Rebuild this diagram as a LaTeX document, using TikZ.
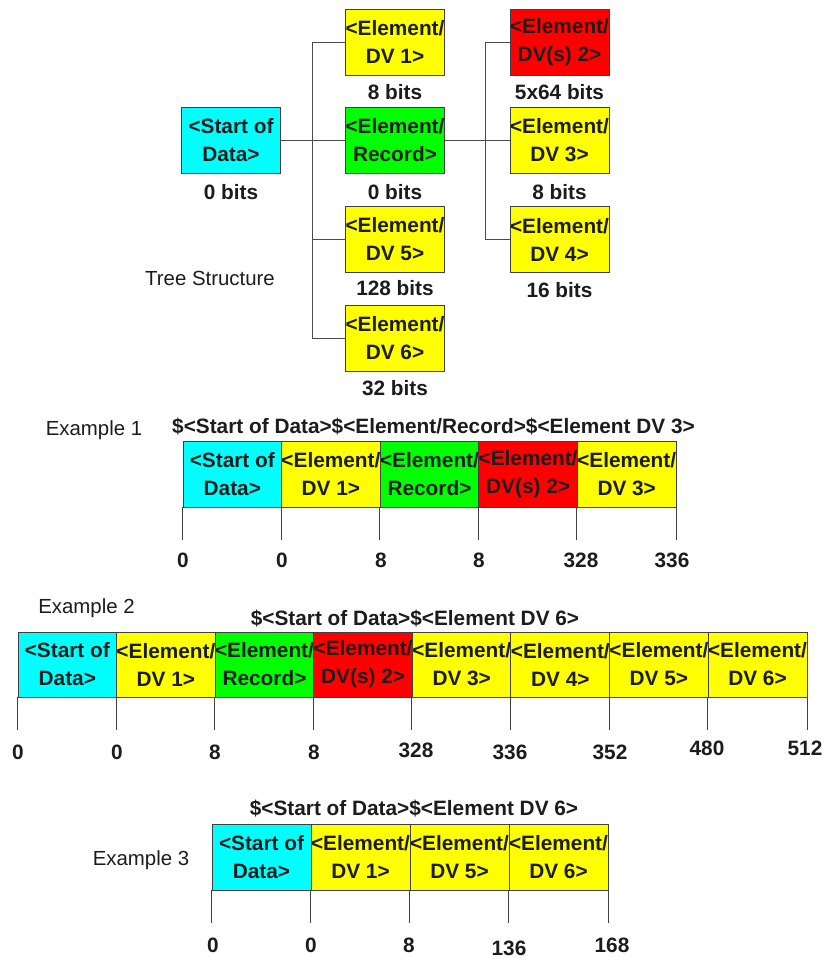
\documentclass[tikz,border=0pt]{standalone}
\usepackage{fontspec}
\setmainfont{Liberation Sans}
\definecolor{cy}{RGB}{0,255,255}
\definecolor{yl}{RGB}{255,255,0}
\definecolor{gn}{RGB}{0,255,0}
\definecolor{rd}{RGB}{255,0,0}
\definecolor{txt}{RGB}{28,28,28}
\newcommand\myboxfont{\fontsize{20.8bp}{28bp}\selectfont\bfseries}
\newcommand\myplainfont{\fontsize{20.4bp}{24bp}\selectfont}
\tikzset{
  cell/.style={draw=black!75, line width=0.8bp, minimum width=98.6bp, minimum height=66bp,
    inner sep=0pt, align=center, font=\myboxfont, text=txt},
  lbl/.style={inner sep=0pt, font=\myboxfont, text=txt},
  plain/.style={inner sep=0pt, font=\myplainfont, text=txt},
  link/.style={draw=black!70, line width=0.8bp},
  tick/.style={draw=black!75, line width=0.8bp}
}
\begin{document}
\begin{tikzpicture}[x=1bp,y=-1bp]
\useasboundingbox (0,0) rectangle (825,962);

% ---------- Tree ----------
\node[cell,fill=cy] (ts) at (231,140.5) {<Start of\\Data>};
\node[cell,fill=yl] (t1) at (395,42) {<Element/\\DV 1>};
\node[cell,fill=gn] (tr) at (395,140.5) {<Element/\\Record>};
\node[cell,fill=yl] (t5) at (395,239.5) {<Element/\\DV 5>};
\node[cell,fill=yl] (t6) at (395,338) {<Element/\\DV 6>};
\node[cell,fill=rd] (t2) at (559.5,42) {<Element/\\DV(s) 2>};
\node[cell,fill=yl] (t3) at (559.5,140.5) {<Element/\\DV 3>};
\node[cell,fill=yl] (t4) at (559.5,239.5) {<Element/\\DV 4>};

\node[lbl] (b1) at (395,92) {8 bits};
\node[lbl] (b2) at (559.5,92) {5x64 bits};
\node[lbl] (bs) at (231,192) {0 bits};
\node[lbl] (br) at (395,192) {0 bits};
\node[lbl] (b3) at (559.5,192) {8 bits};
\node[lbl] (b5) at (395,288) {128 bits};
\node[lbl] (b4) at (559.5,290) {16 bits};
\node[lbl] (b6) at (395,388) {32 bits};

\node[plain] (tree) at (210,278) {Tree Structure};

\draw[link] (ts.east) -- (tr.west);
\draw[link] (t1.west) -- ++(-33,0) |- (t6.west);
\draw[link] (t5.west) -- ++(-33,0);
\draw[link] (tr.east) -- (t3.west);
\draw[link] (t2.west) -- ++(-24,0) |- (t4.west);

% ---------- Example 1 ----------
\node[plain] (ex1) at (94,430) {Example 1};
\node[lbl] (ti1) at (433.5,427) {\$<Start of Data>\$<Element/Record>\$<Element DV 3>};
\node[cell,fill=cy] (a1) at (232.3,474) {<Start of\\Data>};
\node[cell,fill=yl] (a2) at (330.9,474) {<Element/\\DV 1>};
\node[cell,fill=gn] (a3) at (429.5,474) {<Element/\\Record>};
\node[cell,fill=rd] (a4) at (528.1,474) {<Element/\\DV(s) 2>};
\node[cell,fill=yl] (a5) at (626.7,474) {<Element/\\DV 3>};
\foreach \c in {a1,a2,a3,a4,a5} \draw[tick] (\c.south west) -- ++(0,33);
\draw[tick] (a5.south east) -- ++(0,33);
\node[lbl] (n11) at (183,560) {0};
\node[lbl] (n12) at (282,560) {0};
\node[lbl] (n13) at (381,560) {8};
\node[lbl] (n14) at (479,560) {8};
\node[lbl] (n15) at (581,560) {328};
\node[lbl] (n16) at (672,560) {336};

% ---------- Example 2 ----------
\node[plain] (ex2) at (86.5,608) {Example 2};
\node[lbl] (ti2) at (415,619) {\$<Start of Data>\$<Element DV 6>};
\node[cell,fill=cy,minimum height=65bp] (c1) at (67.3,664.5) {<Start of\\Data>};
\node[cell,fill=yl,minimum height=65bp] (c2) at (165.9,664.5) {<Element/\\DV 1>};
\node[cell,fill=gn,minimum height=65bp] (c3) at (264.5,664.5) {<Element/\\Record>};
\node[cell,fill=rd,minimum height=65bp] (c4) at (363.1,664.5) {<Element/\\DV(s) 2>};
\node[cell,fill=yl,minimum height=65bp] (c5) at (461.7,664.5) {<Element/\\DV 3>};
\node[cell,fill=yl,minimum height=65bp] (c6) at (560.3,664.5) {<Element/\\DV 4>};
\node[cell,fill=yl,minimum height=65bp] (c7) at (658.9,664.5) {<Element/\\DV 5>};
\node[cell,fill=yl,minimum height=65bp] (c8) at (757.5,664.5) {<Element/\\DV 6>};
\foreach \c in {c1,c2,c3,c4,c5,c6,c7,c8} \draw[tick] (\c.south west) -- ++(0,33);
\draw[tick] (c8.south east) -- ++(0,33);
\node[lbl] (n21) at (18,752) {0};
\node[lbl] (n22) at (117,752) {0};
\node[lbl] (n23) at (215,752) {8};
\node[lbl] (n24) at (314,752) {8};
\node[lbl] (n25) at (416,750) {328};
\node[lbl] (n26) at (510,752) {336};
\node[lbl] (n27) at (610,752) {352};
\node[lbl] (n28) at (707,748) {480};
\node[lbl] (n29) at (805,748) {512};

% ---------- Example 3 ----------
\node[plain] (ex3) at (141,860) {Example 3};
\node[lbl] (ti3) at (414,809) {\$<Start of Data>\$<Element DV 6>};
\node[cell,fill=cy,minimum width=99bp] (d1) at (261.5,857) {<Start of\\Data>};
\node[cell,fill=yl,minimum width=99bp] (d2) at (360.5,857) {<Element/\\DV 1>};
\node[cell,fill=yl,minimum width=99bp] (d3) at (459.5,857) {<Element/\\DV 5>};
\node[cell,fill=yl,minimum width=99bp] (d4) at (558.5,857) {<Element/\\DV 6>};
\foreach \c in {d1,d2,d3,d4} \draw[tick] (\c.south west) -- ++(0,33);
\draw[tick] (d4.south east) -- ++(0,33);
\node[lbl] (n31) at (213,945) {0};
\node[lbl] (n32) at (311,945) {0};
\node[lbl] (n33) at (409,945) {8};
\node[lbl] (n34) at (509,948) {136};
\node[lbl] (n35) at (612,945) {168};
\end{tikzpicture}
\end{document}
